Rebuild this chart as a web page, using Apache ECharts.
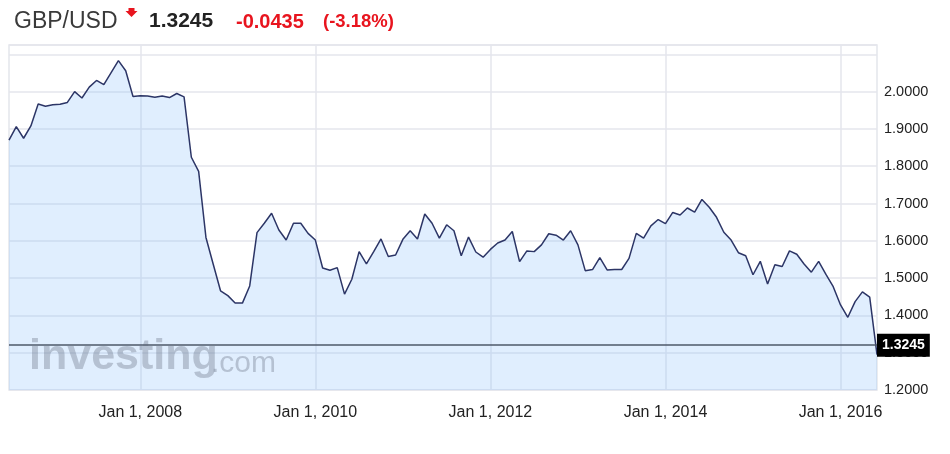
<!DOCTYPE html>
<html>
<head>
<meta charset="utf-8">
<script src="https://cdn.jsdelivr.net/npm/echarts@6/dist/echarts.min.js"></script>
<style>html,body{margin:0;padding:0;background:#fff}#c{width:950px;height:454px}</style>
</head>
<body>
<div id="c"></div>
<script>
// ---- data ----
var startYear = 2006, startMonth = 7, monthCount = 120;   // monthly closes, Jul 2006 .. Jun 2016
var rates = [
  1.870,1.906,1.875,1.908,1.967,1.961,1.965,1.966,1.971,2.000,1.983,2.012,
  2.030,2.019,2.051,2.083,2.056,1.987,1.989,1.988,1.985,1.988,1.984,1.995,
  1.986,1.824,1.786,1.609,1.537,1.466,1.453,1.433,1.433,1.479,1.622,1.647,
  1.674,1.629,1.602,1.647,1.647,1.620,1.602,1.527,1.521,1.528,1.457,1.497,
  1.571,1.538,1.571,1.605,1.558,1.562,1.604,1.627,1.605,1.672,1.647,1.607,
  1.643,1.627,1.560,1.610,1.570,1.556,1.577,1.594,1.602,1.625,1.544,1.573,
  1.571,1.589,1.619,1.615,1.602,1.627,1.589,1.520,1.523,1.555,1.522,1.523,
  1.523,1.553,1.620,1.607,1.640,1.657,1.646,1.676,1.669,1.688,1.677,1.711,
  1.690,1.663,1.623,1.602,1.568,1.560,1.509,1.545,1.484,1.536,1.531,1.573,
  1.564,1.538,1.516,1.545,1.510,1.477,1.428,1.395,1.437,1.463,1.449,1.295
];
var pair = "GBP/USD";
var lastPrice = 1.3245;
var change = "-0.0435";
var changePct = "(-3.18%)";
var yTicks = { min: 1.2, max: 2.125, step: 0.1 };
var monthNames = ["Jan","Feb","Mar","Apr","May","Jun","Jul","Aug","Sep","Oct","Nov","Dec"];

var months = [];
for (var i = 0; i < monthCount; i++) {
  var m = startMonth - 1 + i;
  var y = startYear + Math.floor(m / 12);
  var mm = (m % 12) + 1;
  months.push(y + "-" + (mm < 10 ? "0" + mm : mm));
}
function isLabelMonth(idx, val) {
  var p = String(val).split("-");
  return p[1] === "01" && (+p[0]) % 2 === 0;
}

var FF = "'Liberation Sans', Arial, Helvetica, sans-serif";
var red = "#e8141e";

var chart = echarts.init(document.getElementById('c'), null, {renderer: 'canvas'});
chart.setOption({
  animation: false,
  backgroundColor: '#fff',
  title: [
    { text: pair, left: 9, top: 5, textStyle: { fontFamily: FF, fontSize: 23, fontWeight: 'normal', color: '#3a3a3a' } },
    { text: String(lastPrice), left: 144, top: 6, textStyle: { fontFamily: FF, fontSize: 21, fontWeight: 'bold', color: '#222' } },
    { text: change, left: 231, top: 7, textStyle: { fontFamily: FF, fontSize: 20, fontWeight: 'bold', color: red } },
    { text: changePct, left: 318, top: 7, textStyle: { fontFamily: FF, fontSize: 18.5, fontWeight: 'bold', color: red } }
  ],
  graphic: [
    { type: 'polygon', z: 10, shape: { points: [[128.5,8],[134.5,8],[134.5,11],[137.5,11],[131.5,17],[125.5,11],[128.5,11]] }, style: { fill: red } },
    { type: 'text', z: 100, left: 29, top: 336, style: { text: 'investing', font: "bold 43px " + FF, fill: 'rgba(90,100,118,0.32)' } },
    { type: 'text', z: 100, left: 211, top: 349, style: { text: '.com', font: "30px " + FF, fill: 'rgba(90,100,118,0.32)' } }
  ],
  grid: { left: 9, right: 73, top: 45, bottom: 64, show: true, borderColor: '#e4e6ec', borderWidth: 1.5, backgroundColor: '#fff' },
  xAxis: {
    type: 'category', data: months, boundaryGap: false,
    axisLine: { show: false }, axisTick: { show: false },
    axisLabel: {
      interval: isLabelMonth, margin: 15, color: '#222', fontFamily: FF, fontSize: 16,
      formatter: function (v) { var p = v.split("-"); return monthNames[+p[1] - 1] + " 1, " + p[0]; }
    },
    splitLine: { show: true, interval: isLabelMonth, lineStyle: { color: '#e4e6ec', width: 1.5 } }
  },
  yAxis: {
    type: 'value', position: 'right', min: yTicks.min, max: yTicks.max, interval: yTicks.step,
    axisLine: { show: false }, axisTick: { show: false },
    axisLabel: {
      margin: 7, color: '#222', fontFamily: FF, fontSize: 14.5,
      formatter: function (v) { return v > 2.05 ? '' : v.toFixed(4); }
    },
    splitLine: { show: true, lineStyle: { color: '#e4e6ec', width: 1.5 } }
  },
  series: [{
    type: 'line', data: rates, symbol: 'none', smooth: false,
    lineStyle: { color: '#2c3566', width: 1.5 },
    areaStyle: { origin: 'start', color: 'rgba(140,190,250,0.38)' },
    markLine: {
      silent: true, symbol: 'none',
      lineStyle: { color: '#4e5868', width: 1.5, type: 'solid' },
      label: {
        position: 'end', distance: 0, formatter: function () { return lastPrice.toFixed(4); },
        backgroundColor: '#000', color: '#fff', fontFamily: FF, fontSize: 14, fontWeight: 'bold',
        padding: [5, 5, 4, 5]
      },
      data: [{ yAxis: lastPrice }]
    }
  }]
});
</script>
</body>
</html>
